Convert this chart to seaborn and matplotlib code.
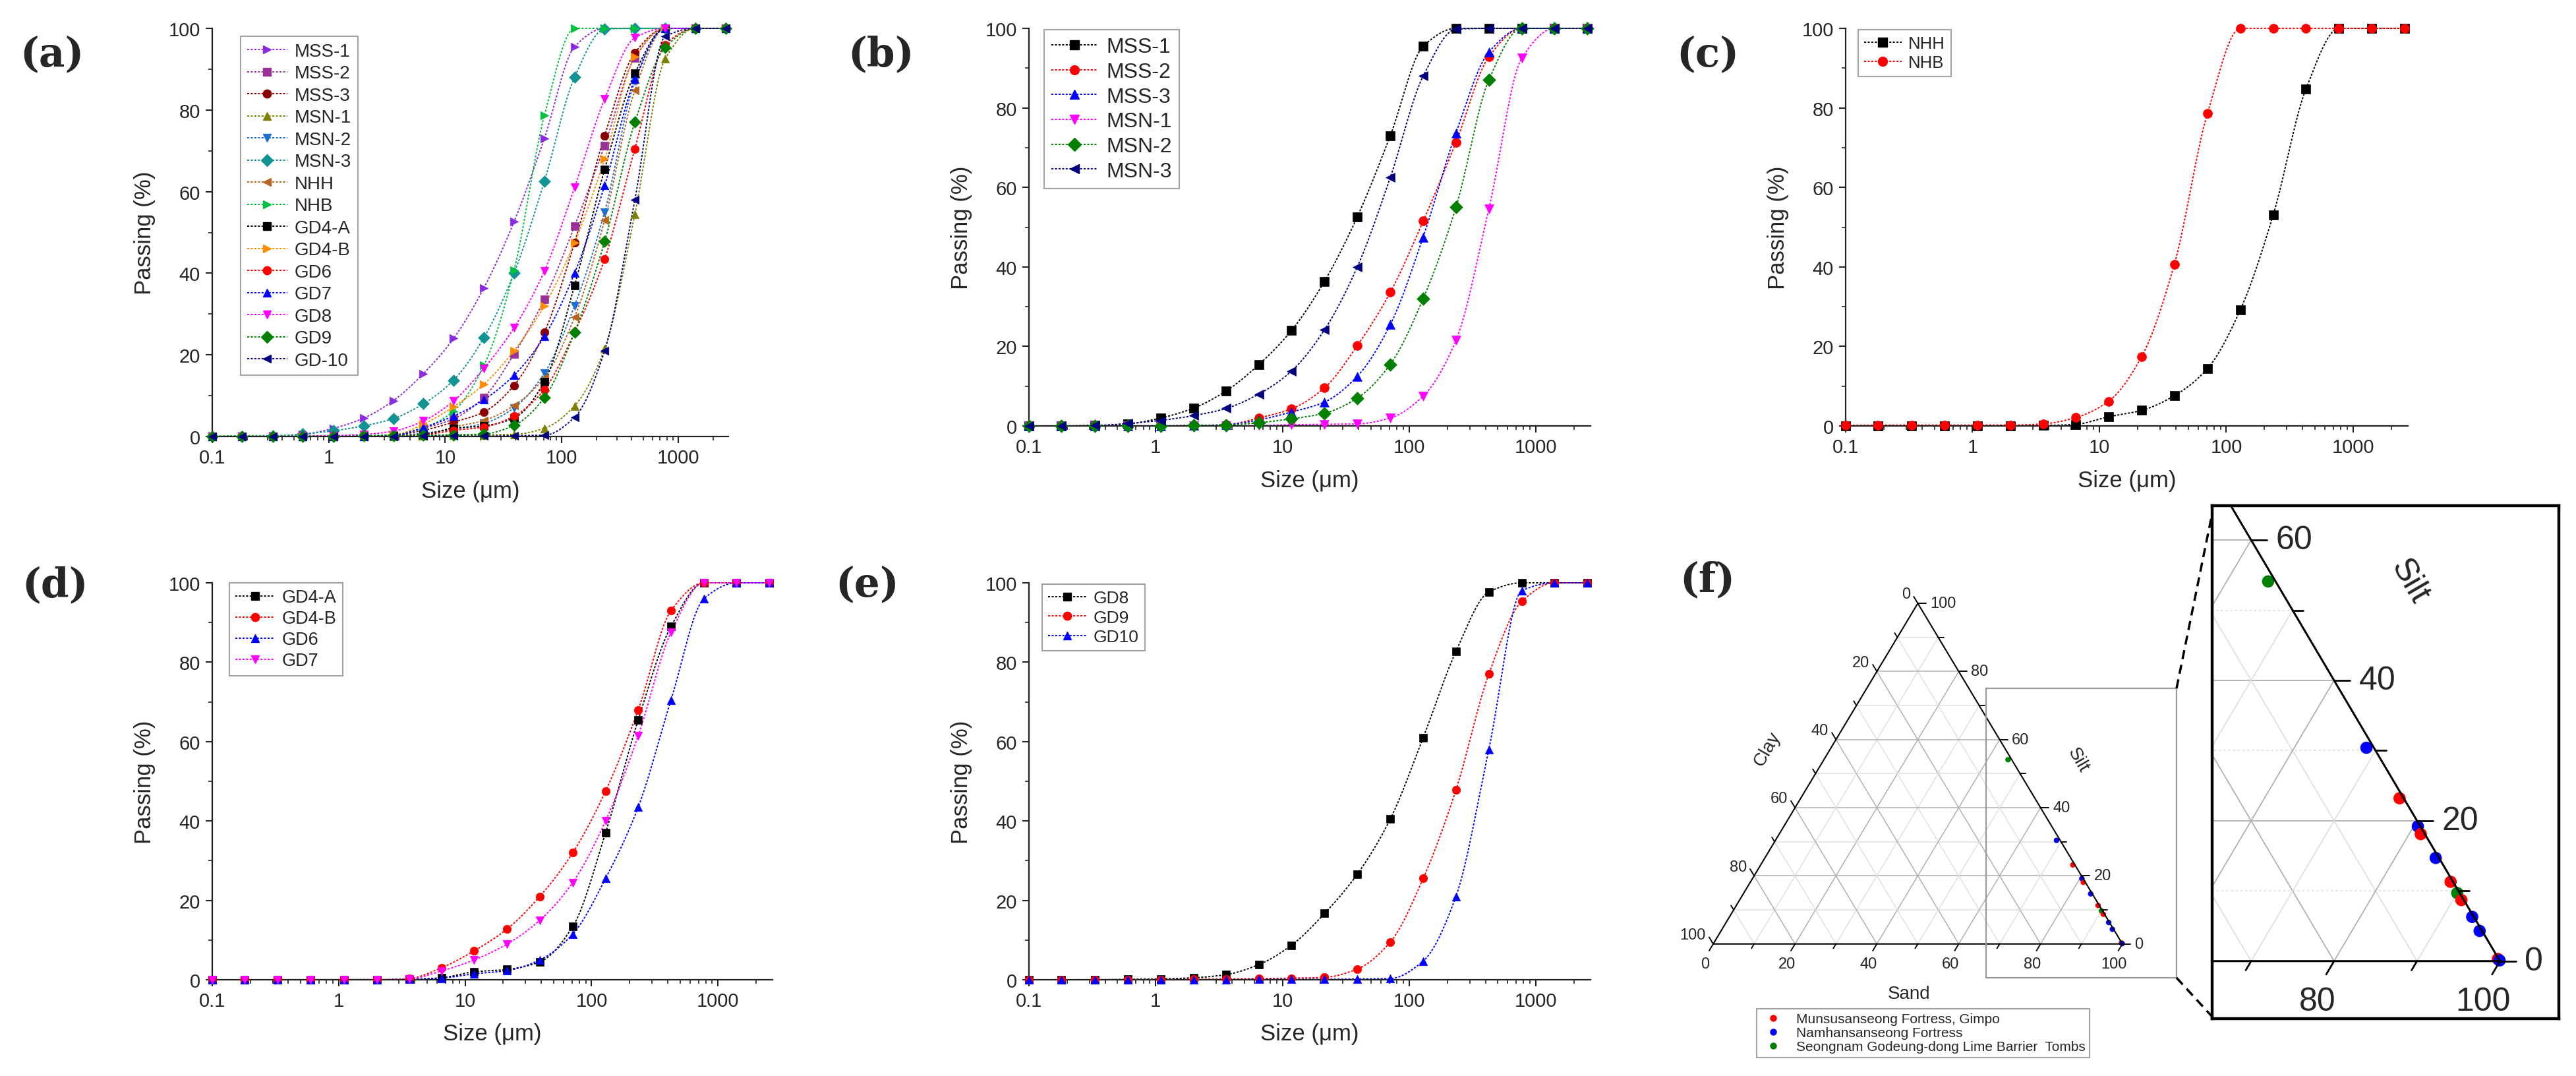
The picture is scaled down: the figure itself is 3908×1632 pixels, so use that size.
import numpy as np
import pandas as pd
import matplotlib
matplotlib.use("Agg")
import matplotlib.pyplot as plt
import seaborn as sns
from matplotlib.lines import Line2D
from matplotlib.patches import Rectangle
from matplotlib.ticker import LogLocator, NullFormatter, FixedLocator

# ---------------- data ----------------
sizes = [0.1, 0.18, 0.33, 0.6, 1.1, 2.0, 3.6, 6.5, 11.8, 21.5, 39, 71, 129, 234, 425, 773, 1400, 2550]

mss1 = [0, 0, 0.1, 0.5, 2.0, 4.5, 8.8, 15.4, 24.0, 36.4, 52.6, 73.0, 95.5, 100, 100, 100, 100, 100]
mss2 = [0, 0, 0, 0, 0, 0.1, 0.3, 2.0, 4.3, 9.6, 20.2, 33.6, 51.5, 71.3, 92.8, 100, 100, 100]
mss3 = [0, 0, 0, 0, 0, 0.1, 0.3, 1.5, 3.5, 6.0, 12.5, 25.5, 47.5, 73.7, 94.0, 100, 100, 100]
msn1 = [0, 0, 0, 0, 0, 0, 0, 0.1, 0.3, 0.4, 0.5, 2.0, 7.5, 21.5, 54.5, 92.5, 100, 100]
msn2 = [0, 0, 0, 0, 0, 0.1, 0.2, 0.8, 1.8, 3.2, 7.0, 15.5, 32.0, 55.0, 87.0, 100, 100, 100]
msn3 = [0, 0, 0.1, 0.6, 1.4, 2.6, 4.4, 8.0, 13.8, 24.2, 40.0, 62.5, 88.0, 99.8, 100, 100, 100, 100]
nhh = [0, 0, 0, 0, 0, 0, 0.1, 0.4, 2.3, 3.9, 7.6, 14.4, 29.2, 53.0, 84.8, 100, 100, 100]
nhb = [0.1, 0.2, 0.2, 0.2, 0.2, 0.2, 0.5, 2.1, 6.2, 17.4, 40.7, 78.6, 100, 100, 100, 100, 100, 100]
gd4a = [0, 0, 0, 0, 0, 0, 0.1, 0.5, 2.0, 2.6, 4.5, 13.4, 37.0, 65.5, 89.0, 100, 100, 100]
gd4b = [0, 0, 0, 0, 0, 0, 0.3, 3.0, 7.3, 12.8, 21.0, 32.0, 47.5, 68.0, 93.0, 100, 100, 100]
gd6 = [0, 0, 0, 0, 0, 0, 0.1, 0.4, 1.5, 2.3, 5.0, 11.5, 25.5, 43.5, 70.5, 96.0, 100, 100]
gd7 = [0, 0, 0, 0, 0, 0, 0.2, 2.2, 5.0, 9.0, 15.0, 24.5, 40.0, 61.5, 87.5, 100, 100, 100]
gd8 = [0, 0, 0, 0.1, 0.2, 0.5, 1.3, 3.8, 8.7, 16.7, 26.6, 40.5, 61.0, 82.7, 97.7, 100, 100, 100]
gd9 = [0, 0, 0, 0, 0, 0.1, 0.2, 0.3, 0.4, 0.6, 2.7, 9.5, 25.5, 47.8, 77.0, 95.3, 100, 100]
gd10 = [0, 0, 0, 0, 0, 0, 0, 0.1, 0.1, 0.1, 0.2, 0.3, 4.7, 21.0, 58.0, 98.0, 100, 100]

x_ticks = [0.1, 1, 10, 100, 1000]
x_ticklabels = ["0.1", "1", "10", "100", "1000"]
y_ticks = [0, 20, 40, 60, 80, 100]

# ternary (sand, silt, clay in %)
tern_sand = [45.0, 68.7, 76.3, 80.5, 81.4, 84.9, 88.4, 90.0, 91.0, 93.5, 95.4, 99.6, 99.9]
tern_silt = [54.1, 30.4, 23.2, 19.2, 18.1, 14.7, 11.3, 9.7, 8.7, 6.3, 4.3, 0.3, 0.1]
tern_clay = [0.9, 0.9, 0.5, 0.3, 0.5, 0.4, 0.3, 0.3, 0.3, 0.2, 0.3, 0.1, 0.0]
tern_site = ["Seongnam Godeung-dong Lime Barrier  Tombs", "Namhansanseong Fortress",
             "Munsusanseong Fortress, Gimpo", "Namhansanseong Fortress",
             "Munsusanseong Fortress, Gimpo", "Namhansanseong Fortress",
             "Munsusanseong Fortress, Gimpo", "Seongnam Godeung-dong Lime Barrier  Tombs",
             "Munsusanseong Fortress, Gimpo", "Namhansanseong Fortress",
             "Namhansanseong Fortress", "Munsusanseong Fortress, Gimpo", "Namhansanseong Fortress"]
site_names = ["Munsusanseong Fortress, Gimpo", "Namhansanseong Fortress",
              "Seongnam Godeung-dong Lime Barrier  Tombs"]
site_colors = ["#ff0000", "#0000ff", "#008000"]

# ---------------- style ----------------
sns.set_theme(style="ticks")
plt.rcParams["font.family"] = ["Liberation Sans", "DejaVu Sans"]
plt.rcParams["axes.linewidth"] = 1.5

W, H = 3908, 1633
fig = plt.figure(figsize=(W / 100, H / 100), dpi=100)
fig.patch.set_facecolor("white")


def px_axes(x0, y0, x1, y1):
    return fig.add_axes([x0 / W, 1 - y1 / H, (x1 - x0) / W, (y1 - y0) / H])


def pchip(x, y, xq):
    x = np.asarray(x, float)
    y = np.asarray(y, float)
    h = np.diff(x)
    d = np.diff(y) / h
    n = len(x)
    m = np.zeros(n)
    for k in range(1, n - 1):
        if d[k - 1] * d[k] > 0:
            w1 = 2 * h[k] + h[k - 1]
            w2 = h[k] + 2 * h[k - 1]
            m[k] = (w1 + w2) / (w1 / d[k - 1] + w2 / d[k])
    m[0] = d[0]
    m[-1] = d[-1]
    idx = np.clip(np.searchsorted(x, xq) - 1, 0, n - 2)
    t = (xq - x[idx]) / h[idx]
    h00 = 2 * t**3 - 3 * t**2 + 1
    h10 = t**3 - 2 * t**2 + t
    h01 = -2 * t**3 + 3 * t**2
    h11 = t**3 - t**2
    return h00 * y[idx] + h10 * h[idx] * m[idx] + h01 * y[idx + 1] + h11 * h[idx] * m[idx + 1]


LS = (0, (1.6, 1.2))


def psd_panel(rect, series, legend_xy, leg_fs, leg_space, label, label_xy, ms=9):
    ax = px_axes(*rect)
    lx = np.log10(sizes)
    handles = []
    for name, vals, col, mk in series:
        q = np.linspace(lx[0], lx[-1], 600)
        ax.plot(10**q, pchip(lx, vals, q), color=col, ls=LS, lw=1.4, zorder=2, clip_on=False)
        df = pd.DataFrame({"size": sizes, "passing": vals})
        sns.scatterplot(data=df, x="size", y="passing", marker=mk, color=col, s=ms * ms,
                        edgecolor=col, linewidth=0.5, ax=ax, zorder=3, clip_on=False, legend=False)
        handles.append(Line2D([], [], color=col, ls=LS, lw=1.4, marker=mk, ms=ms,
                              markeredgecolor=col, label=name))
    ax.set_xscale("log")
    ax.set_xlim(0.1, 2700)
    ax.set_ylim(0, 100)
    ax.set_xticks(x_ticks)
    ax.set_xticklabels(x_ticklabels)
    ax.xaxis.set_minor_locator(LogLocator(base=10, subs=np.arange(2, 10) * 1.0, numticks=20))
    ax.xaxis.set_minor_formatter(NullFormatter())
    ax.set_yticks(y_ticks)
    ax.yaxis.set_minor_locator(FixedLocator([10, 30, 50, 70, 90]))
    ax.tick_params(which="major", direction="out", length=7, width=1.5, labelsize=21, pad=6, color="#222222")
    ax.tick_params(which="minor", direction="out", length=4, width=1.2, color="#222222")
    sns.despine(ax=ax)
    for sp in ["left", "bottom"]:
        ax.spines[sp].set_color("#222222")
        ax.spines[sp].set_linewidth(1.6)
    ax.set_xlabel("Size (μm)", fontsize=25, labelpad=14)
    ax.set_ylabel("Passing (%)", fontsize=25, labelpad=14)
    ax.set_facecolor("white")
    leg = ax.legend(handles=handles, loc="upper left",
                    bbox_to_anchor=(legend_xy[0] / W, 1 - legend_xy[1] / H),
                    bbox_transform=fig.transFigure, frameon=True, fancybox=False,
                    fontsize=leg_fs, labelspacing=leg_space, handlelength=2.2,
                    handletextpad=0.4, borderpad=0.35, borderaxespad=0)
    leg.get_frame().set_edgecolor("#8c8c8c")
    leg.get_frame().set_linewidth(1.5)
    fig.text(label_xy[0] / W, 1 - label_xy[1] / H, label, fontsize=44, fontweight="bold",
             family="DejaVu Serif", ha="center", va="center")
    return ax


panel_a = [
    ("MSS-1", mss1, "#8a2be2", ">"), ("MSS-2", mss2, "#993399", "s"),
    ("MSS-3", mss3, "#8b0000", "o"), ("MSN-1", msn1, "#808000", "^"),
    ("MSN-2", msn2, "#1f6fcf", "v"), ("MSN-3", msn3, "#129393", "D"),
    ("NHH", nhh, "#b5651d", "<"), ("NHB", nhb, "#00c040", ">"),
    ("GD4-A", gd4a, "#000000", "s"), ("GD4-B", gd4b, "#ff8c00", ">"),
    ("GD6", gd6, "#ff0000", "o"), ("GD7", gd7, "#0000ff", "^"),
    ("GD8", gd8, "#ff00ff", "v"), ("GD9", gd9, "#008000", "D"),
    ("GD-10", gd10, "#000080", "<"),
]
panel_b = [
    ("MSS-1", mss1, "#000000", "s"), ("MSS-2", mss2, "#ff0000", "o"),
    ("MSS-3", mss3, "#0000ff", "^"), ("MSN-1", msn1, "#ff00ff", "v"),
    ("MSN-2", msn2, "#008000", "D"), ("MSN-3", msn3, "#000080", "<"),
]
panel_c = [("NHH", nhh, "#000000", "s"), ("NHB", nhb, "#ff0000", "o")]
panel_d = [("GD4-A", gd4a, "#000000", "s"), ("GD4-B", gd4b, "#ff0000", "o"),
           ("GD6", gd6, "#0000ff", "^"), ("GD7", gd7, "#ff00ff", "v")]
panel_e = [("GD8", gd8, "#000000", "s"), ("GD9", gd9, "#ff0000", "o"),
           ("GD10", gd10, "#0000ff", "^")]

psd_panel((322, 44, 1105, 663), panel_a, (365, 56), 20, 0.27, "(a)", (79, 83))
psd_panel((1561, 44, 2413, 647), panel_b, (1584, 46), 23, 0.24, "(b)", (1337, 83), ms=10)
psd_panel((2800, 44, 3653, 647), panel_c, (2819, 46), 18.5, 0.18, "(c)", (2591, 83), ms=10)
psd_panel((322, 885, 1172, 1487), panel_d, (348, 885), 19.5, 0.22, "(d)", (84, 888))
psd_panel((1561, 885, 2413, 1487), panel_e, (1581, 887), 19, 0.2, "(e)", (1316, 887))

# ---------------- ternary ----------------
S3 = np.sqrt(3) / 2


def P(sand, silt):
    return sand + silt / 2.0, silt * S3


def draw_ternary(ax, fs_tick, fs_title, lw_edge, lw_grid, pt_size, tmaj, tmin, inset):
    clip = inset
    for v in range(10, 100, 10):
        major = v % 20 == 0
        col = "#b0b0b0" if major else "#e0e0e0"
        hls = "-" if (major or not inset) else (0, (2, 2))
        x0, y0 = P(0, v); x1, y1 = P(100 - v, v)
        ax.plot([x0, x1], [y0, y1], color=col, lw=lw_grid, ls=hls, zorder=1)
        x0, y0 = P(v, 0); x1, y1 = P(v, 100 - v)
        ax.plot([x0, x1], [y0, y1], color=col, lw=lw_grid, zorder=1)
        x0, y0 = P(100 - v, 0); x1, y1 = P(0, 100 - v)
        ax.plot([x0, x1], [y0, y1], color=col, lw=lw_grid, zorder=1)
    ax.plot([0, 100, 50, 0], [0, 0, 100 * S3, 0], color="black", lw=lw_edge, zorder=4,
            solid_joinstyle="miter")
    for v in range(0, 101, 10):
        L = tmaj if v % 20 == 0 else tmin
        x, y = P(v, 0)
        ax.plot([x, x - 0.5 * L], [y, y - S3 * L], color="black", lw=lw_edge * 0.9, zorder=4)
        x, y = P(100 - v, v)
        ax.plot([x, x + L], [y, y], color="black", lw=lw_edge * 0.9, zorder=4)
        x, y = P(0, 100 - v)
        ax.plot([x, x - 0.5 * L], [y, y + S3 * L], color="black", lw=lw_edge * 0.9, zorder=4)
        if v % 20 == 0:
            ax.text(v - 2, -5, str(v), fontsize=fs_tick, ha="center", va="center", clip_on=clip)
            x, y = P(100 - v, v)
            ax.text(x + 3.0, y, str(v), fontsize=fs_tick, ha="left", va="center", clip_on=clip)
            x, y = P(0, 100 - v)
            ax.text(x - 1.8, y + 2.3, str(v), fontsize=fs_tick, ha="right", va="center", clip_on=clip)
    ax.text(47.8, -12.6, "Sand", fontsize=fs_title, ha="center", va="center", clip_on=clip)
    ax.text(13.2, 49.6, "Clay", fontsize=fs_title, ha="center", va="center", rotation=60, clip_on=clip)
    ax.text(89.1, 46.9, "Silt", fontsize=fs_title, ha="center", va="center", rotation=-60, clip_on=clip)
    px = [P(s, t)[0] for s, t in zip(tern_sand, tern_silt)]
    py = [P(s, t)[1] for s, t in zip(tern_sand, tern_silt)]
    df = pd.DataFrame({"x": px, "y": py, "site": tern_site})
    sns.scatterplot(data=df, x="x", y="y", hue="site", hue_order=site_names, palette=site_colors,
                    s=pt_size, edgecolor="none", ax=ax, legend=False, zorder=3)
    ax.set_xlabel("")
    ax.set_ylabel("")


# main triangle: data x -10..120, y -20..95
axt = px_axes(2537, 866, 3344, 1552)
axt.set_xlim(-10, 120)
axt.set_ylim(-20, 95)
draw_ternary(axt, 17, 20, 1.5, 1.1, 36, 2.0, 1.3, inset=False)
axt.axis("off")

handles = [Line2D([], [], ls="none", marker="o", ms=6.5, color=c, label=n)
           for n, c in zip(site_names, site_colors)]
leg = axt.legend(handles=handles, loc="upper left", bbox_to_anchor=(2665 / W, 1 - 1531 / H),
                 bbox_transform=fig.transFigure, frameon=True, fancybox=False, fontsize=15,
                 labelspacing=0.1, handletextpad=0.8, borderpad=0.3, borderaxespad=0,
                 handlelength=1.8)
leg.get_frame().set_edgecolor("#8c8c8c")
leg.get_frame().set_linewidth(1.5)

# gray zoom rectangle + connectors
fig.add_artist(Rectangle((3013 / W, 1 - 1484 / H), (3302 - 3013) / W, (1484 - 1045) / H,
                         transform=fig.transFigure, fill=False, edgecolor="#9a9a9a", lw=1.6))
fig.add_artist(Line2D([3302 / W, 3356 / W], [1 - 1045 / H, 1 - 780 / H], transform=fig.transFigure,
                      color="black", lw=2.5, ls=(0, (4, 2.5))))
fig.add_artist(Line2D([3302 / W, 3356 / W], [1 - 1484 / H, 1 - 1543 / H], transform=fig.transFigure,
                      color="black", lw=2.5, ls=(0, (4, 2.5))))

# inset
axi = px_axes(3356, 768, 3882, 1546)
axi.set_xlim(65.3, 107.1)
axi.set_ylim(-7.1, 56.2)
draw_ternary(axi, 36, 36, 2.2, 1.3, 180, 1.9, 1.3, inset=True)
axi.set_xticks([])
axi.set_yticks([])
for sp in axi.spines.values():
    sp.set_visible(True)
    sp.set_color("black")
    sp.set_linewidth(3.2)
axi.set_facecolor("white")

fig.text(2590 / W, 1 - 880 / H, "(f)", fontsize=44, fontweight="bold", family="DejaVu Serif",
         ha="center", va="center")

fig.savefig("out.png", dpi=100, facecolor="white")
